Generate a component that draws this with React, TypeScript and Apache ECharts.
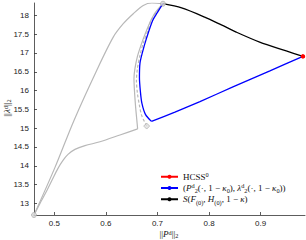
import React, { useEffect, useRef } from "react";
import * as echarts from "echarts";

// ---- data ----
const xTicks = [0.5, 0.6, 0.7, 0.8, 0.9];
const yTicks = [13, 13.5, 14, 14.5, 15, 15.5, 16, 16.5, 17, 17.5, 18];

const outerGray: [number, number][] = [
  [0.4607, 12.69], [0.5014, 13.957], [0.5382, 15.207], [0.5822, 16.537],
  [0.6143, 17.423], [0.6337, 17.779], [0.6531, 18.045], [0.6725, 18.266],
  [0.6893, 18.33], [0.7107, 18.311],
];
const lowerGray: [number, number][] = [
  [0.4607, 12.69], [0.4723, 13.0], [0.4839, 13.293], [0.4955, 13.612],
  [0.5072, 13.931], [0.5169, 14.144], [0.5266, 14.303], [0.5401, 14.436],
  [0.5595, 14.535], [0.5886, 14.638], [0.6273, 14.819], [0.6616, 14.981],
];
const upperGray: [number, number][] = [
  [0.6616, 14.981], [0.6597, 15.261], [0.6574, 15.606], [0.6554, 16.005],
  [0.6545, 16.324], [0.6564, 16.59], [0.6612, 16.91], [0.668, 17.202],
  [0.6758, 17.495], [0.6855, 17.814], [0.6961, 18.08], [0.7107, 18.311],
];
const dashedGray: [number, number][] = [
  [0.6791, 15.056], [0.6694, 15.34], [0.6651, 15.606], [0.6612, 15.926],
  [0.6593, 16.271], [0.6612, 16.59], [0.6661, 16.936], [0.6729, 17.282],
  [0.6816, 17.601], [0.6874, 17.867], [0.699, 18.106], [0.7107, 18.311],
];
const blueCurve: [number, number][] = [
  [0.7107, 18.311], [0.7, 18.08], [0.6907, 17.867], [0.6787, 17.388],
  [0.6709, 17.016], [0.6661, 16.723], [0.6651, 16.351], [0.6671, 15.952],
  [0.6699, 15.66], [0.6767, 15.367], [0.6884, 15.181],
];
const blueStraight: [number, number][] = [
  [0.6884, 15.181], [0.7339, 15.426], [0.7824, 15.707], [0.8463, 16.098],
  [0.918, 16.524], [0.982, 16.91],
];
const blackCurve: [number, number][] = [
  [0.7107, 18.311], [0.7469, 18.199], [0.7915, 17.955], [0.8239, 17.747],
  [0.8527, 17.556], [0.8981, 17.29], [0.9496, 17.056], [0.982, 16.91],
];
const hcssPoint: [number, number][] = [[0.982, 16.91]];
const grayDots: [number, number][] = [[0.4607, 12.69], [0.7107, 18.311]];
const grayDiamond: [number, number][] = [[0.6791, 15.056]];

const names = ["HCSS0", "blue", "black"];
const xName = "{n|||}{i|P}{sup|d}{n|||}{sub|2}";
const yName = "{n|||}{i|λ}{sup|d}{n|||}{sub|2}";

const SERIF = "'Liberation Serif', 'DejaVu Serif', serif";
const SANS = "'Liberation Sans', Arial, sans-serif";
const GRAY = "#b8b8b8";

const richStyles = (fs: number, lh: number) => ({
  n: { fontFamily: SERIF, fontSize: fs, lineHeight: lh, fill: "#111", color: "#111" },
  i: { fontFamily: SERIF, fontSize: fs, lineHeight: lh, fontStyle: "italic", fill: "#111", color: "#111" },
  sup: { fontFamily: SERIF, fontSize: fs * 0.7, lineHeight: fs * 0.7, verticalAlign: "top", fill: "#111", color: "#111" },
  sub: { fontFamily: SERIF, fontSize: fs * 0.7, lineHeight: fs * 0.7, verticalAlign: "bottom", fill: "#111", color: "#111" },
});

const legendLabels: Record<string, string> = {
  HCSS0: "{n|HCSS}{sup|0}",
  blue:
    "{n|(}{i|P}{sup|d}{sub|2}{n|(·, 1 − }{i|κ}{sub|0}{n|), }{i|λ}{sup|d}{sub|2}{n|(·, 1 − }{i|κ}{sub|0}{n|))}",
  black: "{i|S}{n|(}{i|F}{sub|(0)}{n|, }{i|H}{sub|(0)}{n|, 1 − }{i|κ}{n|)}",
};

export default function App() {
  const ref = useRef<HTMLDivElement>(null);
  useEffect(() => {
    if (!ref.current) return;
    const chart = echarts.init(ref.current, null, { renderer: "svg" });
    const grayLine = (data: [number, number][], dashed = false) => ({
      type: "line",
      data,
      showSymbol: false,
      symbol: "none",
      smooth: 0.3,
      lineStyle: { color: GRAY, width: 1.2, type: dashed ? [3, 2] : "solid" },
      z: 2,
      silent: true,
    });
    chart.setOption({
      animation: false,
      grid: { left: 34, right: 1, top: 3, bottom: 25, containLabel: false, outerBoundsMode: "none" },
      graphic: [
        {
          type: "text",
          x: 169,
          y: 234,
          style: { text: xName, rich: richStyles(9, 9), align: "center", verticalAlign: "middle", fill: "#111" },
        },
        {
          type: "text",
          x: 7,
          y: 108,
          rotation: Math.PI / 2,
          style: { text: yName, rich: richStyles(9, 9), align: "center", verticalAlign: "middle", fill: "#111" },
        },
      ],
      xAxis: {
        type: "value",
        min: 0.4607,
        max: 0.986,
        splitLine: { show: false },
        axisLine: { show: true, onZero: false, lineStyle: { color: "#333", width: 0.8 } },
        axisTick: { inside: true, length: 3, customValues: xTicks, lineStyle: { color: "#333", width: 0.8 } },
        axisLabel: { customValues: xTicks, fontFamily: SANS, fontSize: 8, lineHeight: 9, color: "#222", margin: 4 },
      },
      yAxis: {
        type: "value",
        min: 12.69,
        max: 18.33,
        splitLine: { show: false },
        axisLine: { show: true, onZero: false, lineStyle: { color: "#333", width: 0.8 } },
        axisTick: { show: true, inside: true, length: 3, customValues: yTicks, lineStyle: { color: "#333", width: 0.8 } },
        axisLabel: { customValues: yTicks, fontFamily: SANS, fontSize: 8, color: "#222", margin: 5 },
      },
      legend: {
        data: names,
        orient: "vertical",
        left: 160,
        top: 171,
        itemWidth: 17,
        itemHeight: 5,
        itemGap: 1,
        padding: 0,
        selectedMode: false,
        formatter: (name: string) => legendLabels[name] || name,
        textStyle: { rich: richStyles(9, 11.5) },
      },
      series: [
        grayLine(outerGray),
        grayLine(lowerGray),
        grayLine(upperGray),
        grayLine(dashedGray, true),
        {
          type: "scatter",
          data: grayDots,
          symbol: "circle",
          symbolSize: 5,
          itemStyle: { color: "#d6d6d6", borderColor: "#9a9a9a", borderWidth: 0.7 },
          z: 6,
          silent: true,
        },
        {
          type: "scatter",
          data: grayDiamond,
          symbol: "diamond",
          symbolSize: 6,
          itemStyle: { color: "#e0e0e0", borderColor: "#9a9a9a", borderWidth: 0.7 },
          z: 6,
          silent: true,
        },
        {
          name: "blue",
          type: "line",
          data: blueCurve,
          symbol: "none",
          smooth: 0.3,
          lineStyle: { color: "#0000ff", width: 1.3 },
          itemStyle: { color: "#0000ff" },
          z: 4,
        },
        {
          type: "line",
          data: blueStraight,
          symbol: "none",
          smooth: 0.2,
          lineStyle: { color: "#0000ff", width: 1.3 },
          z: 4,
        },
        {
          name: "black",
          type: "line",
          data: blackCurve,
          symbol: "none",
          smooth: 0.3,
          lineStyle: { color: "#000000", width: 1.3 },
          itemStyle: { color: "#000000" },
          z: 5,
        },
        {
          name: "HCSS0",
          type: "line",
          data: hcssPoint,
          symbol: "circle",
          symbolSize: 4.5,
          showSymbol: true,
          lineStyle: { color: "#ff0000", width: 1.3 },
          itemStyle: { color: "#ff0000" },
          z: 7,
        },
      ],
    });
    return () => chart.dispose();
  }, []);
  return (
    <div
      ref={ref}
      style={{ position: "absolute", left: 0, top: 0, width: 306, height: 240, background: "#fff" }}
    />
  );
}
